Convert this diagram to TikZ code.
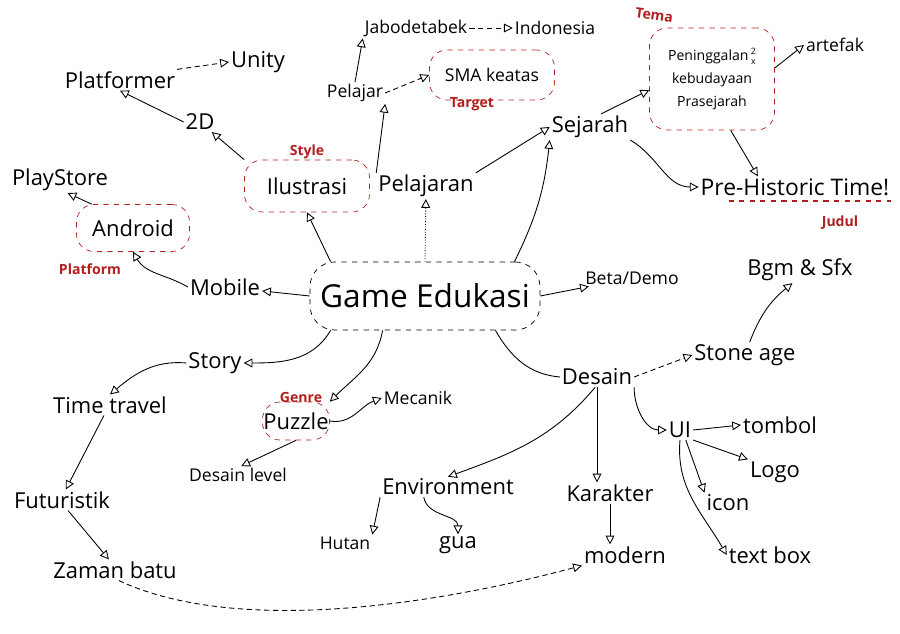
\documentclass[tikz,border=0pt]{standalone}
\usepackage{fontspec}
\setmainfont{Open Sans}
\usepackage{xcolor}
\usepackage{tikz}
\usetikzlibrary{arrows.meta, calc, positioning}
\definecolor{inkred}{RGB}{178,30,30}

\begin{document}
\begin{tikzpicture}[x=0.02cm,y=-0.02cm,auto,
                    big idea/.style={font=\fontsize{18}{20}\selectfont,draw,dashed,rounded corners=14pt,
                                     minimum width=4.6cm,minimum height=1.36cm},
                    idea/.style={font=\fontsize{12.5}{14}\selectfont,inner sep=1pt},
                    small idea/.style={font=\fontsize{10}{12}\selectfont,inner sep=1pt},
                    red box/.style={draw=inkred,dashed,rounded corners=10pt,inner sep=0pt},
                    red note/.style={text=inkred,font=\bfseries\fontsize{8}{9}\selectfont},
                    link/.style={-{Triangle[open,length=5pt,width=5pt]},line width=0.5pt}]

  \useasboundingbox (0,0) rectangle (900,634);

  % centre
  \node[big idea] (game) at (425,296) {Game Edukasi};

  % first ring
  \node[idea] (mobile) at (225,287) {Mobile};
  \node[idea,red box,minimum width=2.5cm,minimum height=1.04cm] (ilu) at (307,186) {Ilustrasi};
  \node[idea] (pelajaran) at (426,186) {Pelajaran};
  \node[idea] (sejarah) at (590,127) {Sejarah};
  \node[small idea] (beta) at (632,278) {Beta/Demo};
  \node[idea] (desain) at (597,377) {Desain};
  \node[idea] (story) at (215,363) {Story};
  \node[idea,red box,minimum width=1.34cm,minimum height=0.76cm] (puzzle) at (296,421) {Puzzle};

  % top left
  \node[idea] (twoD) at (200,122) {2D};
  \node[idea] (platformer) at (120,80) {Platformer};
  \node[idea] (unity) at (258,62) {Unity};
  \node[idea,red box,minimum width=2.26cm,minimum height=0.94cm] (android) at (133,228) {Android};
  \node[idea] (playstore) at (60,180) {PlayStore};

  % top
  \node[small idea] (pelajar) at (355,93) {Pelajar};
  \node[small idea] (jabo) at (416,28) {Jabodetabek};
  \node[small idea] (indo) at (555,28) {Indonesia};
  \node[small idea,red box,minimum width=2.5cm,minimum height=1cm] (sma) at (492,75) {SMA keatas};

  % top right
  \node[small idea,red box,align=center,minimum width=2.5cm,minimum height=2.04cm,
        font=\fontsize{8}{13}\selectfont] (tema) at (712,79)
        {Peninggalan\,\raisebox{-2pt}{\fontsize{5}{5}\selectfont\shortstack{2\\x}}\\kebudayaan\\Prasejarah};
  \node[small idea] (artefak) at (835,45) {artefak};
  \node[font=\fontsize{13}{15}\selectfont,inner sep=1pt] (prehist) at (795,187) {Pre-Historic Time!};

  % right
  \node[idea] (stone) at (745,355) {Stone age};
  \node[idea] (bgm) at (800,270) {Bgm \& Sfx};
  \node[idea] (ui) at (680,430) {UI};
  \node[idea] (tombol) at (780,425) {tombol};
  \node[idea] (logo) at (775,472) {Logo};
  \node[idea] (icon) at (728,503) {icon};
  \node[idea] (textbox) at (770,555) {text box};
  \node[idea] (karakter) at (610,493) {Karakter};
  \node[idea] (modern) at (625,555) {modern};

  % bottom
  \node[idea] (env) at (448,487) {Environment};
  \node[small idea] (hutan) at (345,543) {Hutan};
  \node[idea] (gua) at (458,545) {gua};
  \node[small idea] (mekanik) at (418,398) {Mecanik};
  \node[small idea] (dlevel) at (238,475) {Desain level};
  \node[idea] (timetravel) at (110,405) {Time travel};
  \node[idea] (futur) at (62,500) {Futuristik};
  \node[idea] (zaman) at (115,570) {Zaman batu};

  \path[link]
    (game.west) edge (mobile)
    (game.160) edge (ilu.south)
    (game.north) edge[densely dotted] (pelajaran)
    (game.21) edge[bend right=10] (sejarah.south west)
    (game.east) edge (beta)
    (game.-26) edge[-,out=-60,in=175] (desain.west)
    (game.200) edge[out=240,in=0] (story.east)
    (game.219) edge[out=-100,in=45] (puzzle.north east)
    (ilu.north west) edge (twoD)
    (twoD.west) edge (platformer.south)
    (platformer.north east) edge[densely dashed] (unity.west)
    (mobile.west) edge[out=150,in=-60] (android.south)
    (android.150) edge (playstore.-60)
    (pelajaran.north west) edge (pelajar.south east)
    (pelajar.north) edge (jabo.south west)
    (jabo.east) edge[densely dashed] (indo.west)
    (pelajar.east) edge[densely dashed] (sma.west)
    (pelajaran.north east) edge (sejarah.west)
    (sejarah.50) edge (tema.190)
    (sejarah.south east) edge[out=-30,in=180] (prehist.west)
    (tema.-70) edge (prehist.164)
    (tema.10) edge (artefak.west)
    (desain.east) edge[densely dashed] (stone.west)
    (stone.70) edge[bend left=15] (bgm.-120)
    (desain.south east) edge[out=-90,in=180] (ui.west)
    (desain.-100) edge[out=-130,in=20] (env.north)
    (desain.south) edge (desain.south |- karakter.north)
    (karakter.south) edge (karakter.south |- modern.north)
    (ui.east) edge (tombol.west)
    (ui.south east) edge (logo.north west)
    (ui.-60) edge (icon.north west)
    (ui.south) edge[out=-95,in=120] (textbox.west)
    (env.south west) edge (hutan.north east)
    (env.-157) edge[out=-80,in=90] (gua.north)
    (puzzle.east) edge[out=-10,in=200] (mekanik.west)
    (puzzle.south) edge (dlevel.70)
    (story.west) edge[out=175,in=40] (timetravel.north)
    (timetravel.-120) edge (futur.70)
    (futur.-60) edge (zaman.120)
    (zaman.-70) edge[densely dashed,out=-25,in=195,looseness=0.75] (modern.south west);

  \draw[inkred,dashed,line width=0.8pt] ([xshift=0.6cm,yshift=-2pt]prehist.south west) -- ([yshift=-2pt]prehist.south east);

\node [red note,shift={(0,-34)}] at (ilu) {Style};
\node [red note,shift={(-43,41)}] at (android) {Platform};
\node [red note,shift={(-20,29)}] at (sma) {Target};
\node [red note,rotate=-8,shift={(-66,-55)}] at (tema) {Tema};
\node [red note,shift={(5,-24)}] at (puzzle) {Genre};
\node [red note,shift={(45,36)}] at (prehist) {Judul};
\end{tikzpicture}
\end{document}
